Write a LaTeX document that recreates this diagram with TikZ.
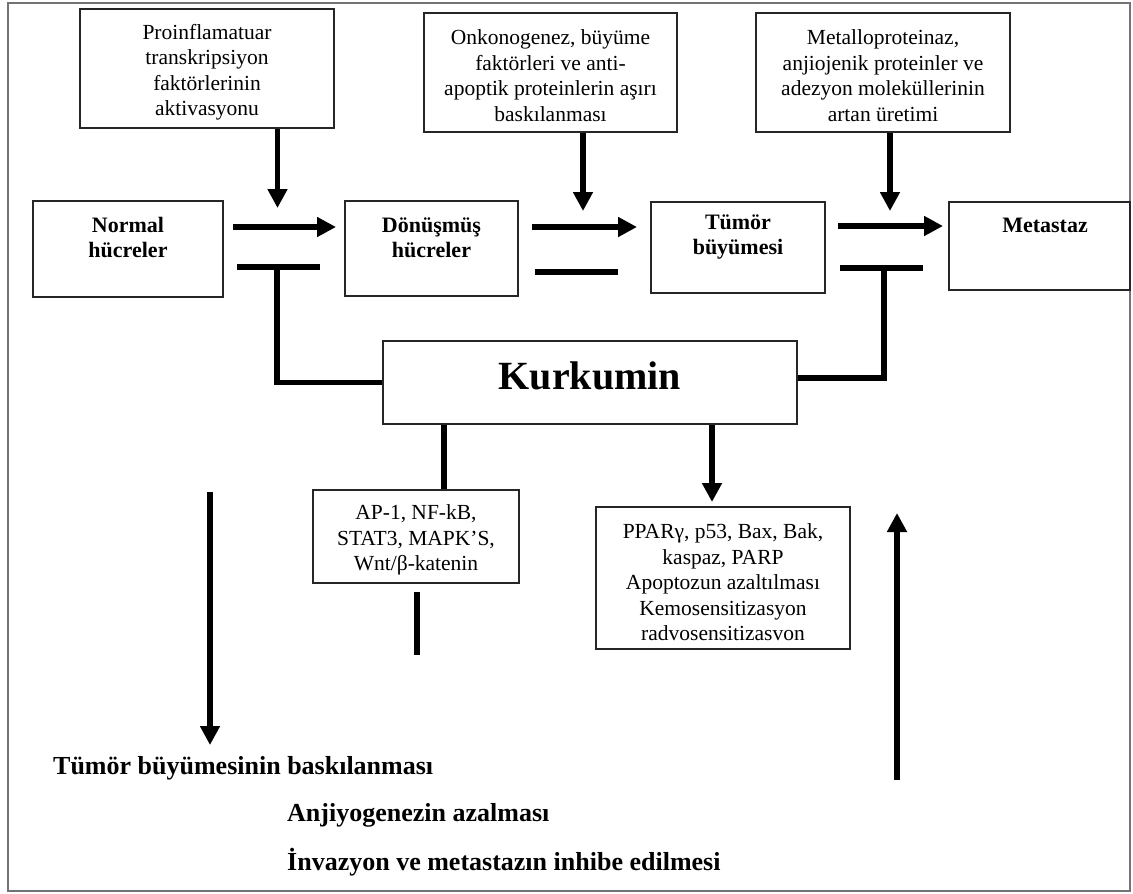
\documentclass[tikz,border=0pt]{standalone}
\usepackage{fontspec}
\setmainfont{Liberation Serif}
\usetikzlibrary{arrows.meta}
\begin{document}
\begin{tikzpicture}[x=1pt,y=-1pt,
  box/.style={draw=black!85, line width=2pt, inner sep=0pt},
  txt/.style={font=\fontsize{21.5}{25.5}\selectfont, align=center, inner sep=0pt},
  btxt/.style={font=\bfseries\fontsize{22}{25}\selectfont, align=center, inner sep=0pt},
  restxt/.style={font=\bfseries\fontsize{26}{30}\selectfont, inner sep=0pt, anchor=west},
  heavy/.style={line width=5.5pt},
  arr/.style={line width=5.5pt, -{Triangle[length=19pt,width=19pt]}},
]
\useasboundingbox (0,0) rectangle (1133,894);
\draw[black!55, line width=1.5pt] (8,3) rectangle (1130,891);

% top boxes
\node[box, minimum width=254pt, minimum height=119pt] (box1) at (207,68.5) {};
\node[txt] (box1txt) at (207,72)
  {Proinflamatuar\\transkripsiyon\\faktörlerinin\\aktivasyonu};
\node[box, minimum width=253pt, minimum height=119pt] (box2) at (550.5,72.5) {};
\node[txt] (box2txt) at (550.5,75.5)
  {Onkonogenez, büyüme\\faktörleri ve anti-\\apoptik proteinlerin aşırı\\baskılanması};
\node[box, minimum width=254pt, minimum height=119pt] (box3) at (883,72.5) {};
\node[txt] (box3txt) at (883,75.5)
  {Metalloproteinaz,\\anjiojenik proteinler ve\\adezyon moleküllerinin\\artan üretimi};

% stage boxes
\node[box, minimum width=189.5pt, minimum height=96pt] (normal) at (127.75,249) {};
\node[btxt] (normaltxt) at (128,237.5) {Normal\\hücreler};
\node[box, minimum width=173pt, minimum height=95pt] (donus) at (431.5,248.5) {};
\node[btxt] (donustxt) at (431.5,237.5) {Dönüşmüş\\hücreler};
\node[box, minimum width=174pt, minimum height=91pt] (tumor) at (738,247.5) {};
\node[btxt] (tumortxt) at (738,237.5) {Tümör\\büyümesi};
\node[box, minimum width=181pt, minimum height=88pt] (meta) at (1039.5,246) {};
\node[btxt] (metatxt) at (1045,225) {Metastaz};

% Kurkumin
\node[box, minimum width=414pt, minimum height=83pt] (kurk) at (590,382.5) {};
\node[font=\bfseries\fontsize{40}{44}\selectfont, inner sep=0pt] (kurktxt) at (590,376) {Kurkumin};

% lower boxes
\node[box, minimum width=206pt, minimum height=93pt] (ap1) at (416,536.5) {};
\node[txt] (ap1txt) at (416,540)
  {AP-1, NF-kB,\\STAT3, MAPK’S,\\Wnt/β-katenin};
\node[box, minimum width=254pt, minimum height=142pt] (ppar) at (723,578) {};
\node[txt] (ppartxt) at (723,582.5)
  {PPARγ, p53, Bax, Bak,\\kaspaz, PARP\\Apoptozun azaltılması\\Kemosensitizasyon\\radvosensitizasvon};

% coordinates
\coordinate (a1e) at (277.5,208);
\coordinate (a2e) at (583,211);
\coordinate (a3e) at (890,211);
\coordinate (h1s) at (233,227); \coordinate (h1e) at (336,227);
\coordinate (h2s) at (532,227); \coordinate (h2e) at (637,227);
\coordinate (h3s) at (838,226); \coordinate (h3e) at (943,226);
\coordinate (b1l) at (237,267); \coordinate (b1r) at (320,267); \coordinate (b1m) at (277,267);
\coordinate (b2l) at (535,272); \coordinate (b2r) at (618,272);
\coordinate (b3l) at (840,268); \coordinate (b3r) at (923,268); \coordinate (b3m) at (884,268);
\coordinate (apx) at (444,0);
\coordinate (ppe) at (712,502);
\coordinate (sl1) at (417,592); \coordinate (sl2) at (417,655);
\coordinate (ls) at (210,492); \coordinate (le) at (210,745);
\coordinate (rs) at (897,780); \coordinate (re) at (897,513);

% arrows from top boxes
\draw[arr] (box1.south -| a1e) -- (a1e);
\draw[arr] (box2.south -| a2e) -- (a2e);
\draw[arr] (box3.south -| a3e) -- (a3e);

% horizontal arrows
\draw[arr] (h1s) -- (h1e);
\draw[arr] (h2s) -- (h2e);
\draw[arr] (h3s) -- (h3e);

% inhibition bars
\draw[heavy] (b1l) -- (b1r);
\draw[heavy] (b2l) -- (b2r);
\draw[heavy] (b3l) -- (b3r);

% Kurkumin connectors
\draw[heavy, line join=miter] (kurk.west) -| (b1m);
\draw[heavy, line join=miter] ([yshift=4.5pt]kurk.east) -| (b3m);
\draw[heavy] (kurk.south -| apx) -- (ap1.north -| apx);
\draw[arr] (kurk.south -| ppe) -- (ppe);
\draw[heavy] (sl1) -- (sl2);

% big arrows
\draw[arr] (ls) -- (le);
\draw[arr] (rs) -- (re);

% result texts
\node[restxt] (res1) at (53,768) {Tümör büyümesinin baskılanması};
\node[restxt] (res2) at (287,815) {Anjiyogenezin azalması};
\node[restxt] (res3) at (287,862) {İnvazyon ve metastazın inhibe edilmesi};
\end{tikzpicture}
\end{document}
